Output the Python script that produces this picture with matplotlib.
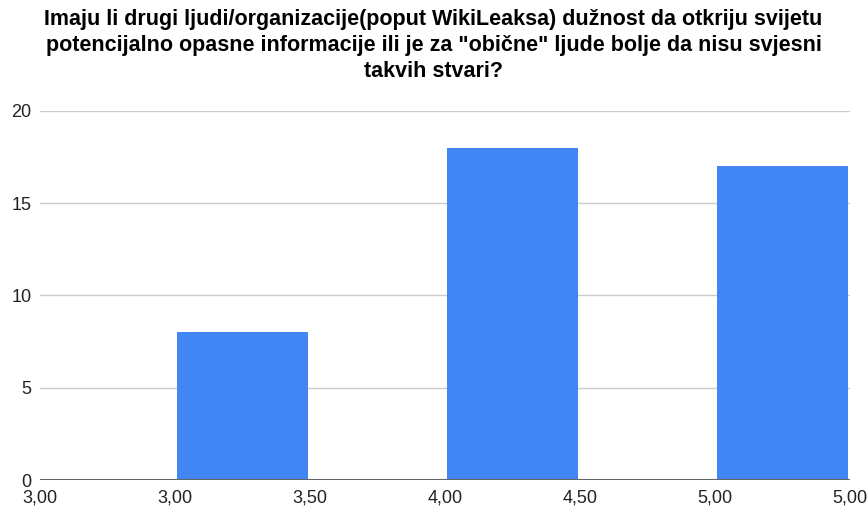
import matplotlib
matplotlib.use("Agg")
import matplotlib.pyplot as plt

title = ('Imaju li drugi ljudi/organizacije(poput WikiLeaksa) dužnost da otkriju svijetu\n'
         'potencijalno opasne informacije ili je za "obične" ljude bolje da nisu svjesni\n'
         'takvih stvari?')
tick_labels = ["3,00", "3,00", "3,50", "4,00", "4,50", "5,00", "5,00"]
bin_starts = [1, 3, 5]
counts = [8, 18, 17]
y_ticks = [0, 5, 10, 15, 20]

plt.rcParams['font.family'] = ['Liberation Sans', 'DejaVu Sans']

fig = plt.figure(figsize=(8.67, 5.08), dpi=100)
ax = fig.add_axes([0.046, 0.055, 0.934, 0.727])

ax.bar([b + 0.015 for b in bin_starts], counts, width=0.97, align='edge',
       color='#4285F4', zorder=3)

ax.set_xlim(0, len(tick_labels) - 1)
ax.set_ylim(0, 20)
ax.set_xticks(range(len(tick_labels)))
ax.set_xticklabels(tick_labels)
ax.set_yticks(y_ticks)
ax.grid(axis='y', color='#cccccc', linewidth=1, zorder=0)
ax.axhline(0, color='#666666', linewidth=1.5, zorder=4)
for s in ax.spines.values():
    s.set_visible(False)
ax.tick_params(axis='both', length=0, labelsize=13, colors='#222222')
ax.tick_params(axis='x', pad=7)
ax.tick_params(axis='y', pad=6)

fig.text(0.5, 0.982, title, ha='center', va='top', fontsize=15.5,
         fontweight='bold', color='#000000', linespacing=1.3)

fig.savefig("out.png", dpi=100)
